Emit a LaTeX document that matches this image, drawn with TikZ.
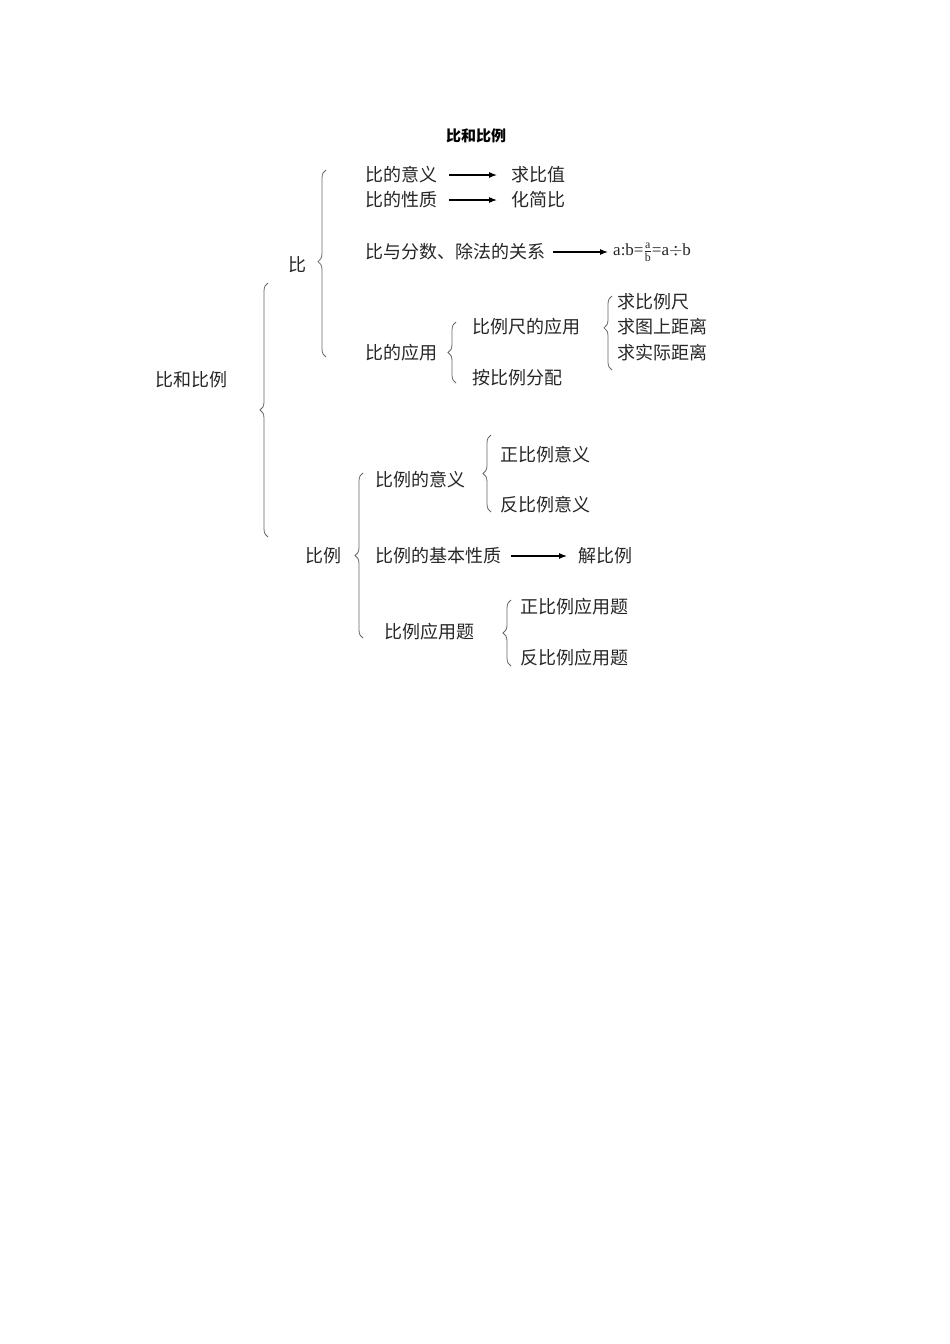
\documentclass[tikz,border=0pt]{standalone}
\usepackage{fontspec}
\setmainfont{Liberation Serif}
\newfontfamily\cjk{Noto Sans CJK SC}
\usetikzlibrary{decorations.pathreplacing,arrows.meta}
\begin{document}
\begin{tikzpicture}[x=1pt,y=-1pt,
  t/.style={anchor=west,inner sep=0pt,font=\cjk\fontsize{18}{18}\selectfont,text=black!85},
  br/.style={draw=black!60,line width=0.8pt,decorate,decoration={brace,amplitude=8pt,aspect=#1}},
  br/.default=0.5,
  ar/.style={-{Latex[length=8pt,width=6pt]},line width=1.1pt}]
\useasboundingbox (0,0) rectangle (950,1344);
\node[inner sep=0pt,font=\cjk\bfseries\fontsize{15}{15}\selectfont] (title) at (476,136) {比和比例};
\node[t] (root) at (155,380) {比和比例};
\node[t] (bi) at (288,265) {比};
\node[t] (y1) at (365,175) {比的意义};
\node[t] (r1) at (511,175) {求比值};
\node[t] (y2) at (365,200) {比的性质};
\node[t] (r2) at (511,200) {化简比};
\node[t] (y3) at (365,252) {比与分数、除法的关系};
\node[anchor=west,inner sep=0pt,font=\fontsize{17}{17}\selectfont,text=black!85] (f) at (613,252) {a:b=$\frac{\mathrm{a}}{\mathrm{b}}$=a$\div$b};
\node[t] (y4) at (365,353) {比的应用};
\node[t] (z1) at (472,327) {比例尺的应用};
\node[t] (z2) at (472,378) {按比例分配};
\node[t] (w1) at (617,302) {求比例尺};
\node[t] (w2) at (617,327) {求图上距离};
\node[t] (w3) at (617,353) {求实际距离};
\node[t] (bl) at (305,556) {比例};
\node[t] (p1) at (375,480) {比例的意义};
\node[t] (q1) at (500,455) {正比例意义};
\node[t] (q2) at (500,505) {反比例意义};
\node[t] (p2) at (375,556) {比例的基本性质};
\node[t] (s2) at (578,556) {解比例};
\node[t] (p3) at (384,632) {比例应用题};
\node[t] (u1) at (520,607) {正比例应用题};
\node[t] (u2) at (520,658) {反比例应用题};
\draw[ar] (y1.east)+(12,0) coordinate (a1s) -- (497,175) coordinate (a1e);
\draw[ar] (y2.east)+(12,0) coordinate (a2s) -- (497,200) coordinate (a2e);
\draw[ar] (y3.east)+(8,0) coordinate (a3s) -- (608,252) coordinate (a3e);
\draw[ar] (p2.east)+(10,0) coordinate (a4s) -- (567,556) coordinate (a4e);
\draw[br] (268,537) -- (268,283);
\draw[br=0.51] (326,357) -- (326,170);
\draw[br] (456,383) -- (456,322);
\draw[br=0.57] (612,370) -- (612,296);
\draw[br=0.5] (363,638) -- (363,473);
\draw[br] (491,512) -- (491,435);
\draw[br] (511,666) -- (511,600);
\end{tikzpicture}
\end{document}
